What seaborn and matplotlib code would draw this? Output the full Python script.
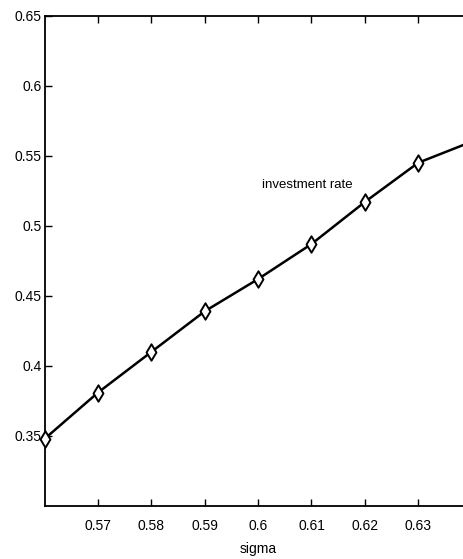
"""
Investment rate as a function of sigma.
"""
import numpy as np
import pandas as pd
from matplotlib import pyplot as plt
import seaborn as sns

# Values
sigma = [0.56, 0.57, 0.58, 0.59, 0.60, 0.61, 0.62, 0.63, 0.64]
investment_rate = [0.348, 0.381, 0.410, 0.439, 0.462, 0.487, 0.517, 0.545, 0.560]
x_ticks = [0.57, 0.58, 0.59, 0.60, 0.61, 0.62, 0.63]
x_ticklabels = ["0.57", "0.58", "0.59", "0.6", "0.61", "0.62", "0.63"]
y_ticks = [0.35, 0.40, 0.45, 0.50, 0.55, 0.60, 0.65]
y_ticklabels = ["0.35", "0.4", "0.45", "0.5", "0.55", "0.6", "0.65"]


def plot(outfile):
    data = pd.DataFrame({"sigma": sigma, "rate": investment_rate})

    sns.set_style("ticks")
    plt.rcParams["font.family"] = ["Liberation Sans Narrow", "Liberation Sans", "DejaVu Sans"]
    plt.rcParams["text.color"] = "black"
    plt.rcParams["xtick.color"] = "black"
    plt.rcParams["ytick.color"] = "black"
    plt.rcParams["axes.labelcolor"] = "black"

    fig = plt.figure(figsize=(4.63, 5.59), dpi=100)
    ax = fig.add_axes([0.0965, 0.0948, 0.922, 0.8772])

    # Line with open thin diamonds (last point has no marker)
    sns.lineplot(data=data, x="sigma", y="rate", color="black", lw=1.8, ax=ax)
    marks = data.iloc[:-1]
    sns.scatterplot(
        data=marks,
        x="sigma",
        y="rate",
        marker="d",
        s=70,
        facecolor="white",
        edgecolor="black",
        linewidth=1.4,
        ax=ax,
        zorder=3,
        clip_on=False,
    )

    # Axes formatting
    ax.set_xlim(0.56, 0.64)
    ax.set_ylim(0.30, 0.65)
    ax.set_xticks(x_ticks)
    ax.set_xticklabels(x_ticklabels, fontsize=10)
    ax.set_yticks(y_ticks)
    ax.set_yticklabels(y_ticklabels, fontsize=10)
    ax.tick_params(axis="x", direction="in", length=5, width=1, pad=9, top=True)
    ax.tick_params(axis="y", direction="in", length=5, width=1, pad=2, right=True)
    for side in ["left", "bottom", "top", "right"]:
        ax.spines[side].set_visible(True)
        ax.spines[side].set_linewidth(1.3)
        ax.spines[side].set_color("black")

    ax.set_xlabel("sigma", fontsize=10, labelpad=7)
    ax.set_ylabel("")

    # In-plot label
    ax.text(0.6008, 0.529, "investment rate", fontsize=9.5, ha="left", va="center")

    plt.savefig(outfile, dpi=100)


plot("out.png")
